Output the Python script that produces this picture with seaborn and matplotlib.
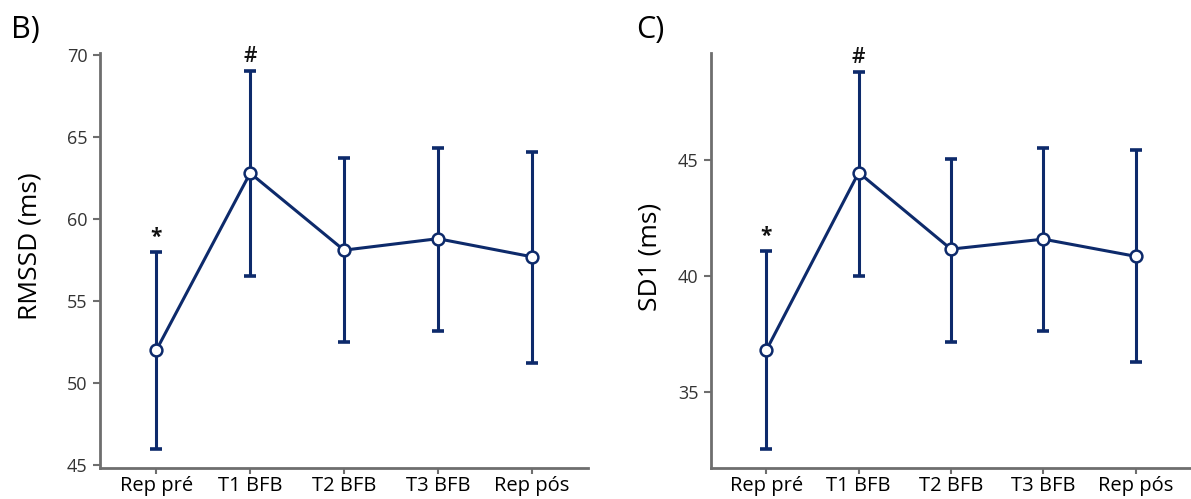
import numpy as np
import pandas as pd
import seaborn as sns
import matplotlib
matplotlib.use("Agg")
import matplotlib.pyplot as plt

# ---- data ----
categories = ["Rep pré", "T1 BFB", "T2 BFB", "T3 BFB", "Rep pós"]
rmssd_mean = [52.0, 62.8, 58.1, 58.8, 57.7]
rmssd_low = [46.0, 56.5, 52.5, 53.2, 51.25]
rmssd_high = [58.0, 69.0, 63.7, 64.35, 64.1]
sd1_mean = [36.8, 44.45, 41.15, 41.58, 40.84]
sd1_low = [32.55, 40.0, 37.16, 37.63, 36.3]
sd1_high = [41.08, 48.78, 45.05, 45.5, 45.42]
rmssd_ticks = [45, 50, 55, 60, 65, 70]
sd1_ticks = [35, 40, 45]
rmssd_marks = {"Rep pré": "*", "T1 BFB": "#"}
sd1_marks = {"Rep pré": "*", "T1 BFB": "#"}

sns.set_theme(style="white")
plt.rcParams['font.family'] = ['Open Sans', 'DejaVu Sans']

navy = "#0d2a6b"
spine_c = "#6e6e6e"

fig = plt.figure(figsize=(11.91, 4.99), dpi=100)
axL = fig.add_axes([100/1191, 1-468/499, 488/1191, 415/499])
axR = fig.add_axes([711/1191, 1-468/499, 480/1191, 415/499])


def panel(ax, mean, low, high, ticks, ylim, ylabel, label_xy, marks, letter, letter_x):
    pos = np.arange(len(categories))
    df = pd.DataFrame({"pos": pos, "mean": mean})
    low = np.asarray(low); high = np.asarray(high); mean_a = np.asarray(mean)
    ax.errorbar(pos, mean_a, yerr=[mean_a - low, high - mean_a], fmt="none",
                ecolor=navy, elinewidth=2.2, capsize=4.5, capthick=2.6, zorder=2)
    sns.lineplot(data=df, x="pos", y="mean", ax=ax, color=navy, linewidth=2.2,
                 marker="o", markersize=8.5, markerfacecolor="white",
                 markeredgecolor=navy, markeredgewidth=1.8, zorder=3)
    ax.set_xlim(-0.6, 4.6)
    ax.set_ylim(*ylim)
    ax.set_xticks(pos)
    ax.set_xticklabels(categories, fontsize=14.5, color="black")
    ax.set_yticks(ticks)
    ax.set_yticklabels([str(t) for t in ticks], fontsize=13, color="#333333")
    ax.set_xlabel("")
    ax.set_ylabel(ylabel, fontsize=19, color="black")
    ax.yaxis.set_label_coords(*label_xy)
    for s in ["top", "right"]:
        ax.spines[s].set_visible(False)
    for s in ["left", "bottom"]:
        ax.spines[s].set_color(spine_c)
        ax.spines[s].set_linewidth(2.0)
    ax.tick_params(axis="both", which="both", direction="out", color=spine_c,
                   width=1.5, bottom=True, left=True)
    ax.tick_params(axis="y", length=5, pad=4)
    ax.tick_params(axis="x", length=4, pad=2)
    for cat, sym in marks.items():
        i = categories.index(cat)
        ax.annotate(sym, (i, high[i]), xytext=(0, 3), textcoords="offset points",
                    ha="center", va="bottom", fontsize=15,
                    fontweight="bold" if sym == "*" else "semibold", color="#111111")
    fig.text(letter_x, 1-30/499, letter, fontsize=22, ha="left", va="center", color="black")


panel(axL, rmssd_mean, rmssd_low, rmssd_high, rmssd_ticks, (44.82, 70.12),
      "RMSSD (ms)", (-0.117, 0.535), rmssd_marks, "B)", 11/1191)
panel(axR, sd1_mean, sd1_low, sd1_high, sd1_ticks, (31.72, 49.6),
      "SD1 (ms)", (-0.102, 0.508), sd1_marks, "C)", 636/1191)

fig.savefig("out.png", dpi=100)
